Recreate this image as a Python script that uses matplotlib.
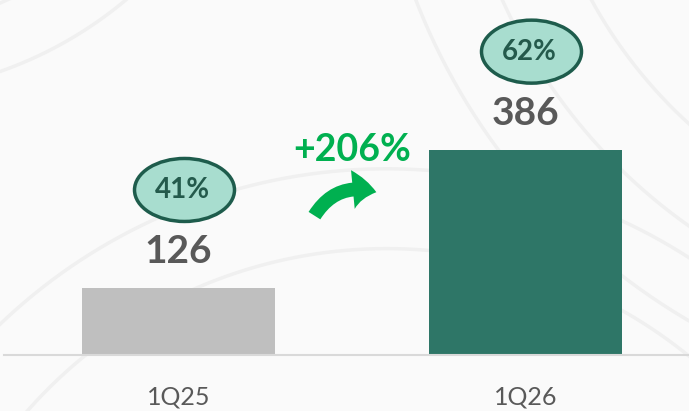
import numpy as np
import matplotlib
matplotlib.use("Agg")
import matplotlib.pyplot as plt
from matplotlib.patches import Ellipse, FancyArrowPatch

# ---- data ----
categories = ["1Q25", "1Q26"]
values = [126, 386]
share_labels = ["41%", "62%"]
growth_label = "+206%"

bar_colors = ["#BFBFBF", "#2E7667"]
bg = "#FAFAFA"

plt.rcParams['font.family'] = ['Lato', 'DejaVu Sans']

W, H = 689, 411
fig = plt.figure(figsize=(W / 100, H / 100), dpi=100, facecolor=bg)
ax = fig.add_axes([0, 0, 1, 1])
ax.set_facecolor(bg)

# scale: pixels per data unit
ppu = 0.532
base_px = 355  # baseline from top
ax.set_ylim(-(H - base_px) / ppu, base_px / ppu)
spacing = 347.0
ax.set_xlim(-178.5 / spacing, 1 + (W - 525.5) / spacing)

# faint decorative background arcs
th = np.linspace(0, 2 * np.pi, 600)
for cx, cy, r in [(-0.9, 1250, 520), (-0.9, 1250, 640), (-0.9, 1250, 760),
                  (2.4, 1100, 900), (2.4, 1100, 1050), (2.4, 1100, 1200),
                  (0.6, -700, 900), (0.6, -700, 1050)]:
    ax.plot(cx + r * np.cos(th) / spacing * ppu, cy + r * np.sin(th), color="#F0F0F0",
            lw=2.5, zorder=0)

x = np.arange(len(categories))
bw = 193 / spacing
ax.bar(x, values, width=bw, color=bar_colors, zorder=2)

# baseline
ax.axhline(0, xmin=4 / W, xmax=1, color="#D9D9D9", lw=1.5, zorder=3)

for xi, v, cat, sl in zip(x, values, categories, share_labels):
    # value label
    ax.annotate(str(v), (xi, v), xytext=(0, 36), textcoords="offset pixels",
                ha="center", va="center", fontsize=28, fontweight="bold",
                color="#595959", zorder=4)
    # category label
    ax.annotate(cat, (xi, 0), xytext=(0, -42), textcoords="offset pixels",
                ha="center", va="center", fontsize=18, color="#595959", zorder=4)
    # ellipse with share
    cy = v + 98 / ppu
    e = Ellipse((xi + 6 / spacing, cy), width=100 / spacing, height=63 / ppu,
                facecolor="#A8DDCF", edgecolor="#1E5C4C", lw=2.5, zorder=4)
    ax.add_patch(e)
    ax.text(xi + 4 / spacing, cy, sl, ha="center", va="center", fontsize=20,
            fontweight="bold", color="#245A4C", zorder=5)

# growth label and arrow
ax.text(352 / W, 1 - 150 / H, growth_label, transform=ax.transAxes, ha="center",
        va="center", fontsize=27, fontweight="bold", color="#00B050", zorder=5)
arrow = FancyArrowPatch((313 / W, 1 - 218 / H), (379 / W, 1 - 193 / H),
                        transform=ax.transAxes,
                        connectionstyle="arc3,rad=-0.4",
                        arrowstyle="simple,head_length=1.7,head_width=2.8,tail_width=1.0",
                        mutation_scale=10, color="#00B050", lw=0, zorder=5)
ax.add_patch(arrow)

ax.axis("off")
fig.savefig("out.png", dpi=100, facecolor=bg)
